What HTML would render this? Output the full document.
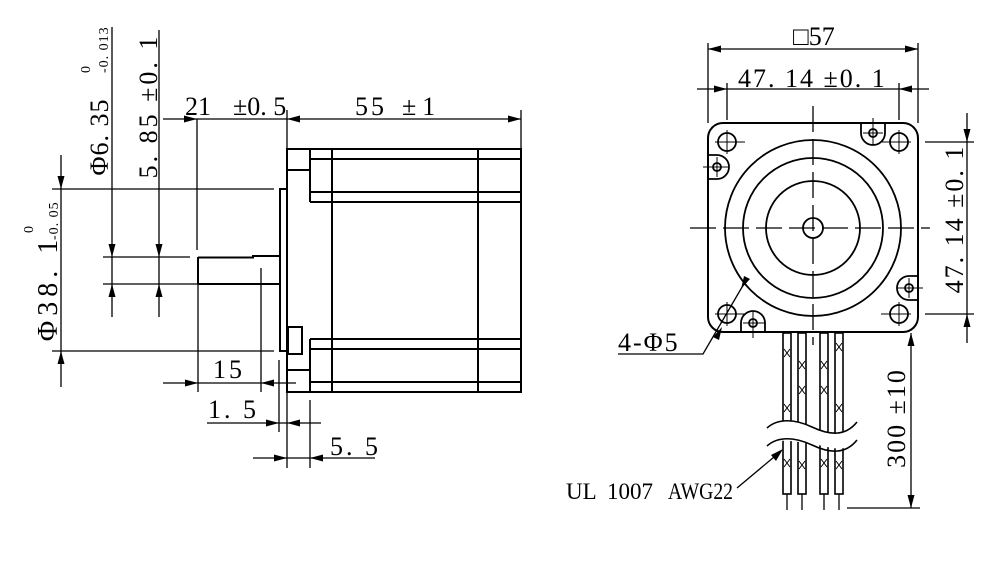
<!DOCTYPE html>
<html><head><meta charset="utf-8"><style>
html,body{margin:0;padding:0;background:#fff;}
svg{display:block;}
text{font-family:"Liberation Serif",serif;fill:#000;}
</style></head><body>
<svg width="1000" height="578" viewBox="0 0 1000 578" xmlns="http://www.w3.org/2000/svg">
<rect width="1000" height="578" fill="#fff"/>
<g stroke="#000" fill="none" stroke-width="1.3">
<g stroke-width="2">
<rect x="287" y="149" width="234" height="243"/>
<line x1="310" y1="159" x2="521" y2="159"/>
<line x1="310" y1="192" x2="521" y2="192"/>
<line x1="310" y1="202" x2="521" y2="202"/>
<line x1="310" y1="149" x2="310" y2="202"/>
<line x1="287" y1="170" x2="310" y2="170"/>
<line x1="310" y1="339" x2="521" y2="339"/>
<line x1="310" y1="349" x2="521" y2="349"/>
<line x1="310" y1="382" x2="521" y2="382"/>
<line x1="310" y1="339" x2="310" y2="392"/>
<line x1="287" y1="370" x2="310" y2="370"/>
<line x1="332" y1="149" x2="332" y2="392"/>
<line x1="478" y1="149" x2="478" y2="392"/>
<rect x="280" y="189" width="7" height="162"/>
<rect x="288" y="327" width="14" height="27"/>
<polyline points="198,257.5 253,257.5 253,256 280,256"/>
<line x1="198" y1="284" x2="280" y2="284"/>
<line x1="198" y1="257" x2="198" y2="284"/>
</g>
<line x1="163" y1="119" x2="521" y2="119"/>
<line x1="197" y1="119" x2="197" y2="250"/>
<line x1="287" y1="110" x2="287" y2="149"/>
<line x1="521" y1="110" x2="521" y2="149"/>
<line x1="112" y1="27" x2="112" y2="317"/>
<line x1="159" y1="30" x2="159" y2="317"/>
<line x1="103" y1="257" x2="190" y2="257"/>
<line x1="103" y1="284" x2="198" y2="284"/>
<line x1="61" y1="155" x2="61" y2="387"/>
<line x1="52" y1="189" x2="274" y2="189"/>
<line x1="52" y1="351" x2="274" y2="351"/>
<line x1="163" y1="383" x2="296" y2="383"/>
<line x1="198" y1="284" x2="198" y2="392"/>
<line x1="261" y1="268" x2="261" y2="392"/>
<line x1="207" y1="423" x2="321" y2="423"/>
<line x1="279" y1="360" x2="279" y2="432"/>
<line x1="287" y1="392" x2="287" y2="468"/>
<line x1="310" y1="400" x2="310" y2="468"/>
<line x1="253" y1="458" x2="375" y2="458"/>

<path d="M723,123 H903 A15,15 0 0 1 918,138 V317 A15,15 0 0 1 903,332 H723 A15,15 0 0 1 708,317 V138 A15,15 0 0 1 723,123 Z" stroke-width="2"/>
<g stroke-width="1.8">
<circle cx="813" cy="228" r="88"/>
<circle cx="813" cy="228" r="70"/>
<circle cx="813" cy="228" r="47"/>
<circle cx="813" cy="228" r="10"/>
<circle cx="727" cy="142" r="9"/>
<circle cx="899" cy="142" r="9"/>
<circle cx="727" cy="314" r="9"/>
<circle cx="899" cy="314" r="9"/>
<path d="M861,123 V133 A12,12 0 0 0 885,133 V123"/>
<circle cx="873" cy="133" r="4"/>
<path d="M708,155 H717 A12,12 0 0 1 717,179 H708"/>
<circle cx="717" cy="167" r="4"/>
<path d="M918,276 H909 A12,12 0 0 0 909,300 H918"/>
<circle cx="909" cy="288" r="4"/>
<path d="M741,332 V323 A12,12 0 0 1 765,323 V332"/>
<circle cx="753" cy="323" r="4"/>
</g>
<line x1="690" y1="228" x2="930" y2="228" stroke-dasharray="26,7"/>
<line x1="813" y1="106" x2="813" y2="345" stroke-dasharray="26,7"/>
<g stroke-width="1">
<line x1="715" y1="142" x2="745" y2="142"/><line x1="727" y1="130" x2="727" y2="154"/>
<line x1="881" y1="142" x2="911" y2="142"/><line x1="899" y1="130" x2="899" y2="154"/>
<line x1="715" y1="314" x2="745" y2="314"/><line x1="727" y1="302" x2="727" y2="326"/>
<line x1="881" y1="314" x2="911" y2="314"/><line x1="899" y1="302" x2="899" y2="326"/>
<line x1="863" y1="133" x2="883" y2="133"/><line x1="873" y1="118" x2="873" y2="145"/>
<line x1="703" y1="167" x2="728" y2="167"/><line x1="717" y1="157" x2="717" y2="177"/>
<line x1="898" y1="288" x2="923" y2="288"/><line x1="909" y1="278" x2="909" y2="298"/>
<line x1="743" y1="323" x2="765" y2="323"/><line x1="753" y1="312" x2="753" y2="338"/>
</g>
<line x1="708" y1="49" x2="918" y2="49"/>
<line x1="708" y1="43" x2="708" y2="123"/>
<line x1="918" y1="43" x2="918" y2="123"/>
<line x1="697" y1="89" x2="929" y2="89"/>
<line x1="727" y1="83" x2="727" y2="120"/>
<line x1="899" y1="83" x2="899" y2="120"/>
<line x1="967" y1="113" x2="967" y2="343"/>
<line x1="925" y1="142" x2="974" y2="142"/>
<line x1="925" y1="314" x2="974" y2="314"/>
<line x1="911" y1="333" x2="911" y2="508"/>
<line x1="847" y1="508" x2="920" y2="508"/>
<polyline points="618,354 703,354 745,282"/>
<g stroke-width="1.6">
<rect x="783" y="333" width="8" height="161"/>
<rect x="798" y="333" width="8" height="161"/>
<rect x="820" y="333" width="8" height="161"/>
<rect x="835" y="333" width="8" height="161"/>
</g>
<line x1="787" y1="494" x2="787" y2="510"/>
<line x1="802" y1="494" x2="802" y2="510"/>
<line x1="824" y1="494" x2="824" y2="510"/>
<line x1="839" y1="494" x2="839" y2="510"/>
<g stroke-width="1">
<path d="M784,349 l6,8 M790,349 l-6,8 M784,404 l6,8 M790,404 l-6,8 M784,459 l6,8 M790,459 l-6,8"/>
<path d="M799,361 l6,8 M805,361 l-6,8 M799,386 l6,8 M805,386 l-6,8 M799,461 l6,8 M805,461 l-6,8"/>
<path d="M821,361 l6,8 M827,361 l-6,8 M821,386 l6,8 M827,386 l-6,8 M821,459 l6,8 M827,459 l-6,8"/>
<path d="M836,343 l6,8 M842,343 l-6,8 M836,404 l6,8 M842,404 l-6,8 M836,461 l6,8 M842,461 l-6,8"/>
</g>
<path d="M767,428 C778,418 795,419 812,427 S845,437 857,422 L857,440 C845,455 828,446 812,444 S778,437 767,446 Z" fill="#fff" stroke="none"/>
<path d="M767,428 C778,418 795,419 812,427 S845,437 857,422" stroke-width="1.6"/>
<path d="M767,446 C778,436 795,437 812,445 S845,455 857,440" stroke-width="1.6"/>
<line x1="737" y1="488" x2="780" y2="452"/>
</g>

<g fill="#000" stroke="none">
<polygon points="197,119 184,115.5 184,122.5"/>
<polygon points="287,119 300,115.5 300,122.5"/>
<polygon points="521,119 508,115.5 508,122.5"/>
<polygon points="112,257 108.5,244 115.5,244"/>
<polygon points="112,284 108.5,297 115.5,297"/>
<polygon points="159,257 155.5,244 162.5,244"/>
<polygon points="159,284 155.5,297 162.5,297"/>
<polygon points="61,189 57.5,176 64.5,176"/>
<polygon points="61,351 57.5,364 64.5,364"/>
<polygon points="198,383 185,379.5 185,386.5"/>
<polygon points="261,383 274,379.5 274,386.5"/>
<polygon points="279,423 266,419.5 266,426.5"/>
<polygon points="287,423 300,419.5 300,426.5"/>
<polygon points="287,458 274,454.5 274,461.5"/>
<polygon points="310,458 323,454.5 323,461.5"/>
<polygon points="708,49 721,45.5 721,52.5"/>
<polygon points="918,49 905,45.5 905,52.5"/>
<polygon points="727,89 714,85.5 714,92.5"/>
<polygon points="899,89 912,85.5 912,92.5"/>
<polygon points="967,142 963.5,129 970.5,129"/>
<polygon points="967,314 963.5,327 970.5,327"/>
<polygon points="911,333 907.5,346 914.5,346"/>
<polygon points="911,508 907.5,495 914.5,495"/>
<polygon points="722,327 713,337 719,340"/>
<polygon points="741,289 750,279 744,276"/>
<polygon points="783,449 771,455 776,461"/>
</g>

<g font-size="26">
<text x="185" y="115">21</text>
<text x="233" y="115">±0. 5</text>
<text x="355" y="115" letter-spacing="3">55</text>
<text x="402" y="115" letter-spacing="6">±1</text>
<text x="213" y="378" letter-spacing="3">15</text>
<text x="208" y="418" letter-spacing="3">1. 5</text>
<text x="330" y="455" letter-spacing="3">5. 5</text>
<text transform="translate(108,137) rotate(-90)" text-anchor="middle" letter-spacing="1">Φ6. 35</text>
<text transform="translate(157,106) rotate(-90)" text-anchor="middle" letter-spacing="3">5. 85  ±0. 1</text>
<text transform="translate(57,288) rotate(-90)" text-anchor="middle" font-size="28" letter-spacing="5">Φ38. 1</text>
<text x="793" y="45">□57</text>
<text x="738" y="87" letter-spacing="2">47. 14  ±0. 1</text>
<text transform="translate(963,219) rotate(-90)" text-anchor="middle" letter-spacing="2">47. 14  ±0. 1</text>
<text transform="translate(905,418) rotate(-90)" text-anchor="middle" letter-spacing="2">300  ±10</text>
<text x="618" y="351" letter-spacing="2">4-Φ5</text>
</g>
<g font-size="23">
<text x="566" y="499">UL</text>
<text x="607" y="499">1007</text>
<text x="668" y="499" textLength="65" lengthAdjust="spacingAndGlyphs">AWG22</text>
</g>
<g font-size="14">
<text transform="translate(90,73) rotate(-90)">0</text>
<text transform="translate(108,73) rotate(-90)" letter-spacing="1">-0. 013</text>
<text transform="translate(33,233) rotate(-90)">0</text>
<text transform="translate(58,240) rotate(-90)" letter-spacing="1">-0. 05</text>
</g>
</svg>
</body></html>
